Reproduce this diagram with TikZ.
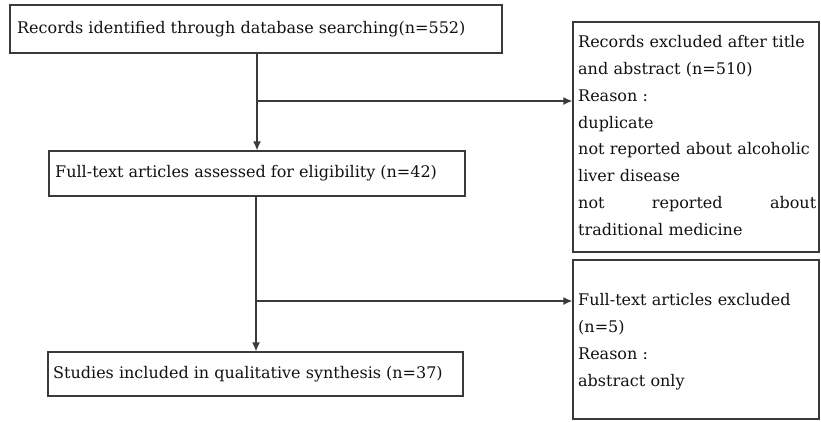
\documentclass[tikz,border=0pt]{standalone}
\usepackage{fontspec}
\setmainfont{DejaVu Serif}
\usetikzlibrary{arrows.meta}
\definecolor{ln}{HTML}{3A3A3A}
\definecolor{tx}{HTML}{111111}
\tikzset{
  box/.style={draw=ln, line width=1.3pt, rectangle, inner sep=0pt},
  txt/.style={text=tx, inner sep=0pt, font=\fontsize{16}{26.9}\selectfont},
  conn/.style={draw=ln, line width=1.3pt},
  arr/.style={conn, -{Latex[length=9pt,width=8pt]}}
}
\begin{document}
\begin{tikzpicture}[x=1pt,y=-1pt]
\useasboundingbox (0,0) rectangle (821,421);
% main boxes
\node[box, minimum width=492pt, minimum height=48pt] (b1) at (256,29) {};
\node[box, minimum width=416pt, minimum height=45pt] (b2) at (257,173.5) {};
\node[box, minimum width=415pt, minimum height=44pt] (b3) at (255.5,374) {};
\node[txt, anchor=west] (t1) at (17,29) {Records identified through database searching(n=552)};
\node[txt, anchor=west] (t2) at (55,173.5) {Full-text articles assessed for eligibility (n=42)};
\node[txt, anchor=west] (t3) at (53,374) {Studies included in qualitative synthesis (n=37)};
% side boxes
\node[box, minimum width=246pt, minimum height=230pt] (r1) at (696,137) {};
\node[box, minimum width=246pt, minimum height=159pt] (r2) at (696,339.5) {};
\node[txt, anchor=north west, align=left, text width=238pt] (s1) at (578,35) {%
Records excluded after title\\
and abstract (n=510)\\
Reason :\\
duplicate\\
not reported about alcoholic\\
liver disease\\
\leavevmode\hbox to 238pt{not\hfill reported\hfill about}\\
traditional medicine};
\node[txt, anchor=north west, align=left, text width=238pt] (s2) at (578,293) {%
Full-text articles excluded\\
(n=5)\\
Reason :\\
abstract only};
% connectors
\coordinate (j1) at (257,101);
\coordinate (j2) at (256,301);
\draw[arr] (b1.south -| j1) -- (b2.north -| j1);
\draw[arr] (j1) -- (r1.west |- j1);
\draw[arr] (b2.south -| j2) -- (b3.north -| j2);
\draw[arr] (j2) -- (r2.west |- j2);
\end{tikzpicture}
\end{document}
